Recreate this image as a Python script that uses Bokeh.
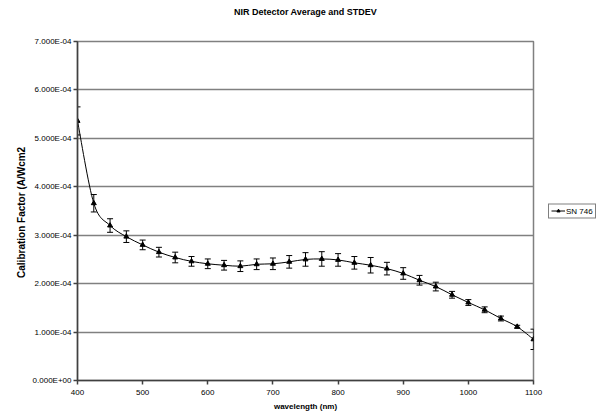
import numpy as np
from bokeh.plotting import figure
from bokeh.models import (ColumnDataSource, Range1d, FixedTicker, CustomJSTickFormatter,
                          Whisker, TeeHead, Legend, LegendItem, Title)
from bokeh.embed import file_html
from bokeh.resources import INLINE

# Detector calibration: average and standard deviation per wavelength
wavelength = [400, 425, 450, 475, 500, 525, 550, 575, 600, 625, 650, 675, 700, 725, 750,
              775, 800, 825, 850, 875, 900, 925, 950, 975, 1000, 1025, 1050, 1075, 1100]
cal_avg = [5.36e-4, 3.66e-4, 3.20e-4, 2.97e-4, 2.80e-4, 2.65e-4, 2.54e-4, 2.46e-4, 2.41e-4,
           2.38e-4, 2.36e-4, 2.40e-4, 2.41e-4, 2.45e-4, 2.50e-4, 2.51e-4, 2.49e-4, 2.43e-4,
           2.38e-4, 2.31e-4, 2.21e-4, 2.07e-4, 1.94e-4, 1.77e-4, 1.61e-4, 1.46e-4, 1.28e-4,
           1.11e-4, 0.85e-4]
cal_std = [0.29e-4, 0.18e-4, 0.14e-4, 0.12e-4, 0.10e-4, 0.10e-4, 0.11e-4, 0.10e-4, 0.10e-4,
           0.10e-4, 0.11e-4, 0.11e-4, 0.12e-4, 0.13e-4, 0.14e-4, 0.15e-4, 0.13e-4, 0.13e-4,
           0.16e-4, 0.13e-4, 0.12e-4, 0.10e-4, 0.09e-4, 0.07e-4, 0.06e-4, 0.06e-4, 0.05e-4,
           0.03e-4, 0.21e-4]
series_name = "SN 746"
chart_title = "NIR Detector Average and STDEV"
x_ticks = [400, 500, 600, 700, 800, 900, 1000, 1100]
y_ticks = [0, 1e-4, 2e-4, 3e-4, 4e-4, 5e-4, 6e-4, 7e-4]

FONT = "Liberation Sans"

x = np.array(wavelength, dtype=float)
y = np.array(cal_avg, dtype=float)
s = np.array(cal_std, dtype=float)

src = ColumnDataSource(dict(x=x, y=y, upper=y + s, lower=y - s))

# Smoothed connecting line: Catmull-Rom segments expressed as cubic Beziers
xp = np.concatenate([[x[0]], x, [x[-1]]])
yp = np.concatenate([[y[0]], y, [y[-1]]])
n = len(x) - 1
seg = dict(
    x0=x[:-1], y0=y[:-1], x1=x[1:], y1=y[1:],
    cx0=x[:-1] + (xp[2:n + 2] - xp[0:n]) / 6.0,
    cy0=y[:-1] + (yp[2:n + 2] - yp[0:n]) / 6.0,
    cx1=x[1:] - (xp[3:n + 3] - xp[1:n + 1]) / 6.0,
    cy1=y[1:] - (yp[3:n + 3] - yp[1:n + 1]) / 6.0,
)
seg_src = ColumnDataSource(seg)

p = figure(frame_width=456, frame_height=339, output_backend="svg", toolbar_location=None,
           x_range=Range1d(400, 1100), y_range=Range1d(0, 7e-4),
           min_border_left=77, min_border_right=71, min_border_top=41, min_border_bottom=40,
           title=chart_title)
p.title.align = "center"
p.title.text_font = FONT
p.title.text_font_size = "9px"
p.title.text_font_style = "bold"
p.title.text_color = "black"
p.title.standoff = 0

# Blank band between the title and the plot frame
p.add_layout(Title(text=" ", text_font_size="2px", standoff=21), "above")

p.background_fill_color = "white"
p.border_fill_color = "white"
p.outline_line_color = "#808080"
p.outline_line_width = 1.5

# Axes
p.xaxis.ticker = FixedTicker(ticks=x_ticks)
p.yaxis.ticker = FixedTicker(ticks=y_ticks)
p.yaxis.formatter = CustomJSTickFormatter(code="""
    const t = tick.toExponential(3).split('e');
    const sign = t[1][0];
    const digits = t[1].slice(1).padStart(2, '0');
    return t[0] + 'E' + sign + digits;
""")
for ax in (p.xaxis, p.yaxis):
    ax.axis_line_color = "#404040"
    ax.axis_line_width = 1.5
    ax.major_tick_line_color = "#404040"
    ax.major_tick_line_width = 1.5
    ax.major_tick_in = 0
    ax.major_tick_out = 4
    ax.minor_tick_line_color = None
    ax.major_label_text_font = FONT
    ax.major_label_text_font_size = "8px"
    ax.major_label_text_color = "black"
    ax.axis_label_text_font = FONT
    ax.axis_label_text_font_size = "8px"
    ax.axis_label_text_font_style = "bold"
    ax.axis_label_text_color = "black"

p.xaxis.axis_label = "wavelength (nm)"
p.xaxis.major_label_standoff = 5
p.xaxis.axis_label_standoff = 4
p.yaxis.axis_label = "Calibration Factor  (A/Wcm2"
p.yaxis.axis_label_text_font_size = "10px"
p.yaxis.major_label_standoff = 2
p.yaxis.axis_label_standoff = 3

p.xgrid.grid_line_color = None
p.ygrid.grid_line_color = "#808080"
p.ygrid.grid_line_width = 1.5

# Curve, error bars and markers
curve = p.bezier(x0="x0", y0="y0", x1="x1", y1="y1", cx0="cx0", cy0="cy0",
                 cx1="cx1", cy1="cy1", source=seg_src, line_color="black", line_width=1)

whisker = Whisker(base="x", upper="upper", lower="lower", source=src, dimension="height",
                  line_color="black", line_width=1,
                  upper_head=TeeHead(size=6, line_color="black", line_width=1),
                  lower_head=TeeHead(size=6, line_color="black", line_width=1))
p.add_layout(whisker)

pts = p.scatter("x", "y", source=src, marker="triangle", size=5,
                fill_color="black", line_color="black")

legend = Legend(items=[LegendItem(label=series_name, renderers=[curve, pts])],
                location="left", orientation="vertical",
                border_line_color="black", border_line_width=1,
                background_fill_color="white", background_fill_alpha=1,
                label_text_font=FONT, label_text_font_size="8px", label_text_color="black",
                label_standoff=1, glyph_width=14, glyph_height=8, label_height=8,
                padding=2, spacing=0, margin=15)
p.add_layout(legend, "right")

open("out.html", "w").write(file_html(p, INLINE))
